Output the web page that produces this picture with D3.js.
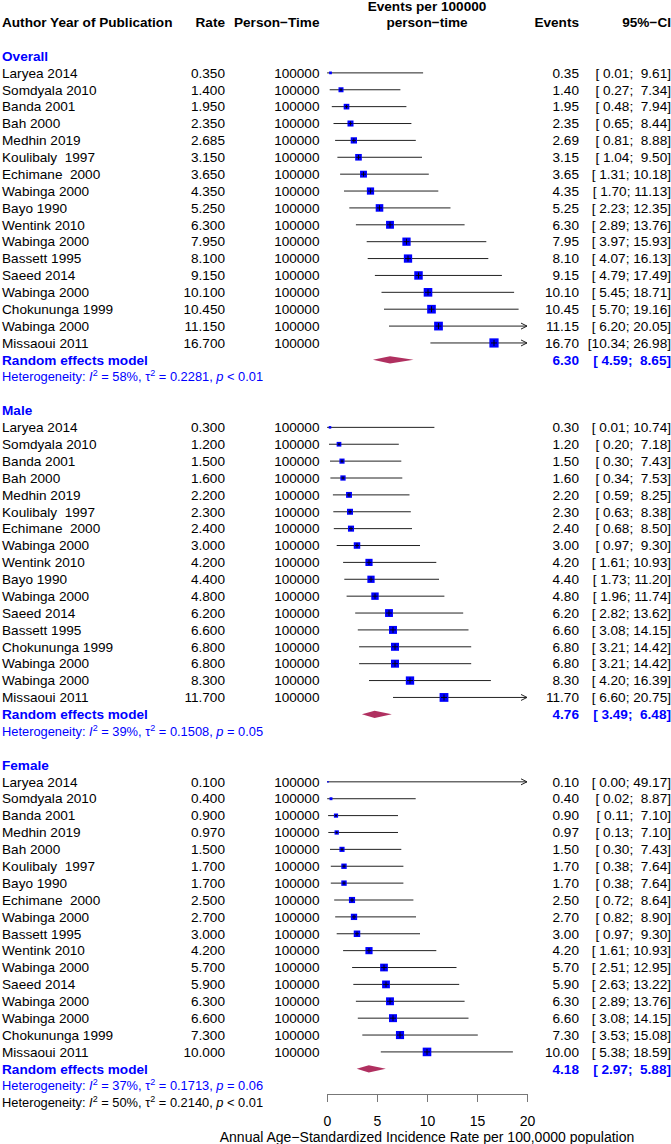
<!DOCTYPE html>
<html>
<head>
<meta charset="utf-8">
<script src="https://cdn.jsdelivr.net/npm/d3@7"></script>
<style>
  body { margin: 0; background: #fff; }
  svg text { white-space: pre; }
</style>
</head>
<body>
<div id="chart"></div>
<script>
// ---- data ----
const groupNames = ["Overall", "Male", "Female"];
const personTime = 100000;

const overallLabels = ["Laryea 2014", "Somdyala 2010", "Banda 2001", "Bah 2000", "Medhin 2019", "Koulibaly  1997", "Echimane  2000", "Wabinga 2000", "Bayo 1990", "Wentink 2010", "Wabinga 2000", "Bassett 1995", "Saeed 2014", "Wabinga 2000", "Chokununga 1999", "Wabinga 2000", "Missaoui 2011"];
const overallRates = [0.35, 1.4, 1.95, 2.35, 2.685, 3.15, 3.65, 4.35, 5.25, 6.3, 7.95, 8.1, 9.15, 10.1, 10.45, 11.15, 16.7];
const overallLower = [0.01, 0.27, 0.48, 0.65, 0.81, 1.04, 1.31, 1.70, 2.23, 2.89, 3.97, 4.07, 4.79, 5.45, 5.70, 6.20, 10.34];
const overallUpper = [9.61, 7.34, 7.94, 8.44, 8.88, 9.50, 10.18, 11.13, 12.35, 13.76, 15.93, 16.13, 17.49, 18.71, 19.16, 20.05, 26.98];

const maleLabels = ["Laryea 2014", "Somdyala 2010", "Banda 2001", "Bah 2000", "Medhin 2019", "Koulibaly  1997", "Echimane  2000", "Wabinga 2000", "Wentink 2010", "Bayo 1990", "Wabinga 2000", "Saeed 2014", "Bassett 1995", "Chokununga 1999", "Wabinga 2000", "Wabinga 2000", "Missaoui 2011"];
const maleRates = [0.3, 1.2, 1.5, 1.6, 2.2, 2.3, 2.4, 3.0, 4.2, 4.4, 4.8, 6.2, 6.6, 6.8, 6.8, 8.3, 11.7];
const maleLower = [0.01, 0.20, 0.30, 0.34, 0.59, 0.63, 0.68, 0.97, 1.61, 1.73, 1.96, 2.82, 3.08, 3.21, 3.21, 4.20, 6.60];
const maleUpper = [10.74, 7.18, 7.43, 7.53, 8.25, 8.38, 8.50, 9.30, 10.93, 11.20, 11.74, 13.62, 14.15, 14.42, 14.42, 16.39, 20.75];

const femaleLabels = ["Laryea 2014", "Somdyala 2010", "Banda 2001", "Medhin 2019", "Bah 2000", "Koulibaly  1997", "Bayo 1990", "Echimane  2000", "Wabinga 2000", "Bassett 1995", "Wentink 2010", "Wabinga 2000", "Saeed 2014", "Wabinga 2000", "Wabinga 2000", "Chokununga 1999", "Missaoui 2011"];
const femaleRates = [0.1, 0.4, 0.9, 0.97, 1.5, 1.7, 1.7, 2.5, 2.7, 3.0, 4.2, 5.7, 5.9, 6.3, 6.6, 7.3, 10.0];
const femaleLower = [0.00, 0.02, 0.11, 0.13, 0.30, 0.38, 0.38, 0.72, 0.82, 0.97, 1.61, 2.51, 2.63, 2.89, 3.08, 3.53, 5.38];
const femaleUpper = [49.17, 8.87, 7.10, 7.10, 7.43, 7.64, 7.64, 8.64, 8.90, 9.30, 10.93, 12.95, 13.22, 13.76, 14.15, 15.08, 18.59];

const reEstimate = [6.30, 4.76, 4.18];
const reLower = [4.59, 3.49, 2.97];
const reUpper = [8.65, 6.48, 5.88];
const hetI2 = ["58%", "39%", "37%"];
const hetTau2 = ["0.2281", "0.1508", "0.1713"];
const hetP = ["< 0.01", "= 0.05", "= 0.06"];
const totalHet = ["50%", "0.2140", "< 0.01"];
const axisTicks = [0, 5, 10, 15, 20];
const tauCommon = 0.2140;

// ---- layout ----
const W = 671, H = 1144;
const fs = 13.6, fsHet = 12.85;
const blue = "#0000ff", maroon = "#b03060";
const rowH = 16.88, row0 = 56;
const yRow = (i) => row0 + i * rowH;
const col = { label: 2, rate: 225, pt: 319.5, events: 579, ci: 671 };

const x = d3.scaleLinear().domain([0, 20]).range([327, 527]);

// random-effects weights -> square side
const weight = (r) => 1 / (1 / r + tauCommon);
const allRates = overallRates.concat(maleRates, femaleRates);
const side = d3.scaleSqrt().domain([0, d3.max(allRates, weight)]).range([0, 9.2]);

const round2 = (v) => (Math.round(v * 100 + 1e-7) / 100).toFixed(2);
const pad5 = (s) => s.padStart(5, " ");
const ciText = (lo, hi) => "[" + pad5(round2(lo)) + "; " + pad5(round2(hi)) + "]";

const svg = d3.select("#chart").append("svg")
  .attr("width", W).attr("height", H)
  .attr("viewBox", [0, 0, W, H])
  .attr("font-family", "'Liberation Sans', Arial, sans-serif")
  .attr("font-size", fs);

const txt = (g, xx, yy, s, opts = {}) =>
  g.append("text")
    .attr("x", xx).attr("y", yy).attr("dy", "0.35em")
    .attr("xml:space", "preserve")
    .attr("text-anchor", opts.anchor || "start")
    .attr("font-weight", opts.bold ? "bold" : null)
    .attr("fill", opts.color || "#000")
    .text(s);

// header
const head = svg.append("g").attr("class", "header");
const hy = 22.7;
txt(head, col.label, hy, "Author Year of Publication", { bold: true });
txt(head, col.rate, hy, "Rate", { bold: true, anchor: "end" });
txt(head, col.pt, hy, "Person\u2212Time", { bold: true, anchor: "end" });
txt(head, x(10), 6, "Events per 100000", { bold: true, anchor: "middle" });
txt(head, x(10), hy, "person\u2212time", { bold: true, anchor: "middle" });
txt(head, col.events, hy, "Events", { bold: true, anchor: "end" });
txt(head, col.ci, hy, "95%\u2212CI", { bold: true, anchor: "end" });

// heterogeneity line
function hetLine(g, yy, i2, tau2, p, color) {
  const t = g.append("text")
    .attr("x", col.label).attr("y", yy).attr("dy", "0.35em")
    .attr("font-size", fsHet).attr("fill", color)
    .attr("xml:space", "preserve");
  t.append("tspan").text("Heterogeneity: ");
  t.append("tspan").attr("font-style", "italic").text("I");
  t.append("tspan").attr("font-size", fsHet * 0.7).attr("dy", "-0.55em").text("2");
  t.append("tspan").attr("dy", "0.385em").text(" = " + i2 + ", \u03c4");
  t.append("tspan").attr("font-size", fsHet * 0.7).attr("dy", "-0.55em").text("2");
  t.append("tspan").attr("dy", "0.385em").text(" = " + tau2 + ", ");
  t.append("tspan").attr("font-style", "italic").text("p");
  t.append("tspan").text(" " + p);
}

const groups = [
  { labels: overallLabels, rates: overallRates, lower: overallLower, upper: overallUpper },
  { labels: maleLabels, rates: maleRates, lower: maleLower, upper: maleUpper },
  { labels: femaleLabels, rates: femaleRates, lower: femaleLower, upper: femaleUpper },
];

const body = svg.append("g").attr("class", "body");
groups.forEach((grp, gi) => {
  const r0 = gi * 21;
  const g = body.append("g").attr("class", "group-" + gi);
  txt(g, col.label, yRow(r0), groupNames[gi], { bold: true, color: blue });

  grp.labels.forEach((lab, k) => {
    const yy = yRow(r0 + 1 + k);
    const rate = grp.rates[k], lo = grp.lower[k], hi = grp.upper[k];
    txt(g, col.label, yy, lab);
    txt(g, col.rate, yy, rate.toFixed(3), { anchor: "end" });
    txt(g, col.pt, yy, String(personTime), { anchor: "end" });
    txt(g, col.events, yy, round2(rate), { anchor: "end" });
    txt(g, col.ci, yy, ciText(lo, hi), { anchor: "end" });

    // CI line, arrow when it runs past the axis
    const x1 = x(Math.max(lo, 0)), x2 = x(Math.min(hi, 20));
    g.append("line")
      .attr("x1", x1).attr("x2", x2).attr("y1", yy).attr("y2", yy)
      .attr("stroke", "#222").attr("stroke-width", 1);
    if (hi > 20) {
      g.append("path")
        .attr("d", `M${x2 - 6},${yy - 3}L${x2},${yy}L${x2 - 6},${yy + 3}`)
        .attr("fill", "none").attr("stroke", "#222").attr("stroke-width", 1);
    }
    // square
    const s = side(weight(rate));
    g.append("rect")
      .attr("x", x(rate) - s / 2).attr("y", yy - s / 2)
      .attr("width", s).attr("height", s)
      .attr("fill", blue);
    if (s > 4) {
      const a = Math.min(s / 2 - 1, 3);
      g.append("path")
        .attr("d", `M${x(rate) - a},${yy}H${x(rate) + a}M${x(rate)},${yy - a}V${yy + a}`)
        .attr("stroke", "#000").attr("stroke-width", 0.9);
    }
  });

  // random effects summary
  const yRe = yRow(r0 + 18);
  txt(g, col.label, yRe, "Random effects model", { bold: true, color: blue });
  txt(g, col.events, yRe, reEstimate[gi].toFixed(2), { bold: true, color: blue, anchor: "end" });
  txt(g, col.ci, yRe, ciText(reLower[gi], reUpper[gi]), { bold: true, color: blue, anchor: "end" });
  const dh = 3.6;
  g.append("path")
    .attr("d", `M${x(reLower[gi])},${yRe}L${x(reEstimate[gi])},${yRe - dh}L${x(reUpper[gi])},${yRe}L${x(reEstimate[gi])},${yRe + dh}Z`)
    .attr("fill", maroon);

  hetLine(g, yRow(r0 + 19), hetI2[gi], hetTau2[gi], hetP[gi], blue);
});

hetLine(body, yRow(62), totalHet[0], totalHet[1], totalHet[2], "#000");

// x axis
const axisY = 1094;
const ax = d3.axisBottom(x).tickValues(axisTicks).tickSize(8).tickSizeOuter(0).tickPadding(14);
svg.append("g")
  .attr("class", "x-axis")
  .attr("transform", `translate(0,${axisY})`)
  .call(ax)
  .call((g) => g.select(".domain").attr("stroke", "#777"))
  .call((g) => g.selectAll(".tick line").attr("stroke", "#777"))
  .call((g) => g.selectAll(".tick text")
    .attr("font-size", 14).attr("fill", "#000")
    .attr("font-family", "'Liberation Sans', Arial, sans-serif"));

svg.append("text")
  .attr("x", x(10)).attr("y", 1141.5)
  .attr("text-anchor", "middle")
  .attr("font-size", 14)
  .attr("fill", "#000")
  .text("Annual Age\u2212Standardized Incidence Rate per 100,0000 population");
</script>
</body>
</html>
